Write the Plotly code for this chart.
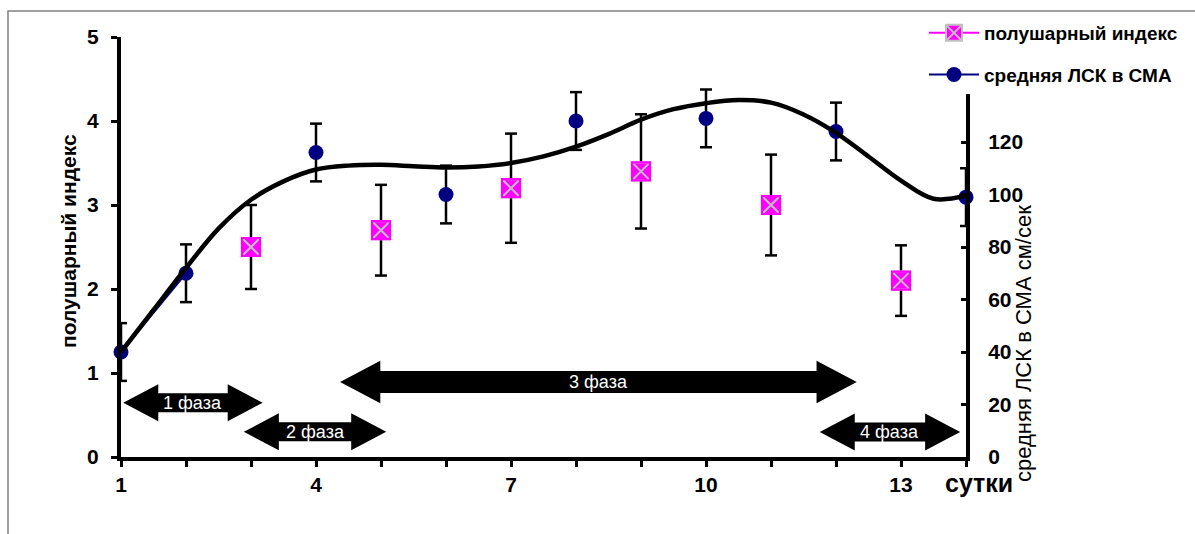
import plotly.graph_objects as go

# ---------------- data ----------------
days = [1, 2, 3, 4, 5, 6, 7, 8, 9, 10, 11, 12, 13, 14]
x_tick_text = ["1", "", "", "4", "", "", "7", "", "", "10", "", "", "13", ""]
right_tick_vals = [0, 20, 40, 60, 80, 100, 120, 140, 160]
right_tick_text = ["0", "20", "40", "60", "80", "100", "120", "", ""]

# полушарный индекс (left axis)
hemi_index = [None, None, 2.5, None, 2.7, None, 3.2, None, 3.4, None, 3.0, None, 2.1, None]
hemi_err = [None, None, 0.5, None, 0.54, None, 0.65, None, 0.68, None, 0.6, None, 0.42, None]

# средняя ЛСК в СМА (right axis, cm/s)
mca_velocity = [40, 70, None, 116, None, 100, None, 128, None, 129, None, 124, None, 99]
mca_err = [11, 11, None, 11, None, 11, None, 11, None, 11, None, 11, None, 11]

# trend curve of velocity
trend_days = [1, 1.5, 2, 2.5, 3, 3.5, 4, 4.5, 5, 5.5, 6, 6.5, 7, 7.5, 8, 8.5, 9,
              9.5, 10, 10.5, 11, 11.5, 12, 12.5, 13, 13.5, 14]
trend_velocity = [40, 56, 72, 87, 98, 105, 109.5, 111, 111.3, 110.8, 110.3, 110.7, 112,
                  114.5, 118.2, 123, 128.5, 132.5, 134.8, 136, 135, 130.5, 123.5, 114.5, 105.3,
                  98.4, 99.5]

# phases (day span, level on left axis)
phase_labels = ["1 фаза", "2 фаза", "3 фаза", "4 фаза"]
phase_start = [1.035, 2.89, 4.37, 11.75]
phase_end = [3.18, 5.08, 12.32, 13.91]
phase_level = [0.646, 0.30, 0.893, 0.298]
phase_scale = [1.0, 1.0, 1.15, 1.0]

FONT = "Liberation Sans, Arial, sans-serif"
PINK = "#ff00ff"
NAVY = "#000080"


def error_traces(xs, vals, errs, yaxis):
    """Whisker lines + caps, clipped to the plot area."""
    lx, ly, cx, cy = [], [], [], []
    for d, v, e in zip(xs, vals, errs):
        if v is None or e is None:
            continue
        lx += [d, d, None]
        ly += [v - e, v + e, None]
        cx += [d, d]
        cy += [v - e, v + e]
    return [
        go.Scatter(x=lx, y=ly, mode="lines", yaxis=yaxis, showlegend=False,
                   hoverinfo="skip", line=dict(color="black", width=2.5)),
        go.Scatter(x=cx, y=cy, mode="markers", yaxis=yaxis, showlegend=False,
                   hoverinfo="skip", cliponaxis=True,
                   marker=dict(symbol="line-ew", size=8.6, color="black",
                               line=dict(color="black", width=2.5))),
    ]


fig = go.Figure()

for tr in error_traces(days, hemi_index, hemi_err, "y"):
    fig.add_trace(tr)
for tr in error_traces(days, mca_velocity, mca_err, "y2"):
    fig.add_trace(tr)

# pink series: markers + border overlay
fig.add_trace(go.Scatter(
    x=days, y=hemi_index, name="полушарный индекс", mode="lines+markers",
    connectgaps=False, legendgroup="a",
    line=dict(color=PINK, width=2),
    marker=dict(symbol="square-x", size=18, color=PINK,
                line=dict(color="#c0c0c0", width=2)),
    cliponaxis=False,
))
fig.add_trace(go.Scatter(
    x=days, y=hemi_index, mode="markers", showlegend=False, hoverinfo="skip",
    marker=dict(symbol="square-open", size=18, color=PINK, line=dict(color=PINK, width=2.2)),
    cliponaxis=False,
))

# velocity markers (unclipped) and trend
fig.add_trace(go.Scatter(
    x=days, y=mca_velocity, name="средняя ЛСК в СМА", mode="lines+markers",
    connectgaps=False, legendgroup="b", yaxis="y2",
    line=dict(color=NAVY, width=2),
    marker=dict(symbol="circle", size=15, color=NAVY),
    cliponaxis=False,
))
fig.add_trace(go.Scatter(
    x=trend_days, y=trend_velocity, mode="lines", yaxis="y2", showlegend=False,
    line=dict(color="black", width=4.5, shape="spline", smoothing=1),
    hoverinfo="skip",
))

# phase arrows
px_per_x = 845 / 13.0
px_per_y = 420 / 5.0
shapes = []
annotations = []
for lab, xs, xe, yv, sc in zip(phase_labels, phase_start, phase_end, phase_level, phase_scale):
    hl = 35 * sc / px_per_x
    hh = 18.5 * sc / px_per_y
    sh = 9.5 * sc / px_per_y
    pts = [(xs, yv), (xs + hl, yv + hh), (xs + hl, yv + sh), (xe - hl, yv + sh),
           (xe - hl, yv + hh), (xe, yv), (xe - hl, yv - hh), (xe - hl, yv - sh),
           (xs + hl, yv - sh), (xs + hl, yv - hh)]
    path = "M " + " L ".join(f"{a:.4f},{b:.4f}" for a, b in pts) + " Z"
    shapes.append(dict(type="path", xref="x", yref="y", path=path,
                       fillcolor="black", line=dict(width=0)))
    annotations.append(dict(x=(xs + xe) / 2, y=yv, xref="x", yref="y", text=lab,
                            xanchor="center", yanchor="middle",
                            showarrow=False, font=dict(family=FONT, size=18, color="white")))

# outer frame
shapes.append(dict(type="rect", xref="paper", yref="paper",
                   x0=(8 - 121) / 845, x1=(1205 - 121) / 845,
                   y0=(457 - 545) / 420, y1=(457 - 11) / 420,
                   line=dict(color="#808080", width=1.5), fillcolor="rgba(0,0,0,0)"))

annotations.append(dict(x=(68 - 121) / 845, y=(457 - 241) / 420, xref="paper", yref="paper",
                        xanchor="center", yanchor="middle",
                        text="полушарный индекс", textangle=-90, showarrow=False,
                        font=dict(family=FONT, size=21, color="black", weight="bold")))
annotations.append(dict(x=(1023 - 121) / 845, y=(457 - 344) / 420, xref="paper", yref="paper",
                        xanchor="center", yanchor="middle",
                        text="средняя ЛСК в СМА см/сек", textangle=-90, showarrow=False,
                        font=dict(family=FONT, size=22, color="black")))
annotations.append(dict(x=(979 - 121) / 845, y=(457 - 483) / 420, xref="paper", yref="paper",
                        xanchor="center", yanchor="middle",
                        text="сутки", showarrow=False,
                        font=dict(family=FONT, size=25, color="black", weight="bold")))

tickfont = dict(family=FONT, size=21, color="black", weight="bold")

fig.update_layout(
    width=1195, height=534,
    margin=dict(l=121, r=229, t=37, b=77),
    paper_bgcolor="white", plot_bgcolor="white",
    showlegend=True,
    xaxis=dict(range=[1, 14], tickvals=days, ticktext=x_tick_text, ticks="outside",
               ticklen=6, tickwidth=3, tickcolor="black", showline=True, linewidth=4,
               linecolor="black", showgrid=False, zeroline=False, tickfont=tickfont,
               ticklabelstandoff=0),
    yaxis=dict(range=[0, 5], dtick=1, ticks="outside", ticklen=6, tickwidth=3,
               tickcolor="black", showline=True, linewidth=4, linecolor="black",
               showgrid=False, zeroline=False, tickfont=tickfont, ticklabelstandoff=8),
    yaxis2=dict(range=[0, 160], tickvals=right_tick_vals, ticktext=right_tick_text,
                overlaying="y", side="right", ticks="inside",
                ticklen=5, tickwidth=3, tickcolor="black", showline=True, linewidth=4,
                linecolor="black", showgrid=False, zeroline=False, tickfont=tickfont,
                ticklabelstandoff=14),
    legend=dict(x=(924 - 121) / 845, y=(457 - 14) / 420, xanchor="left", yanchor="top",
                bgcolor="white", borderwidth=0, tracegroupgap=14, itemwidth=50,
                font=dict(family=FONT, size=19, color="black", weight="bold")),
    shapes=shapes,
    annotations=annotations,
)

fig.write_html("out.html")
